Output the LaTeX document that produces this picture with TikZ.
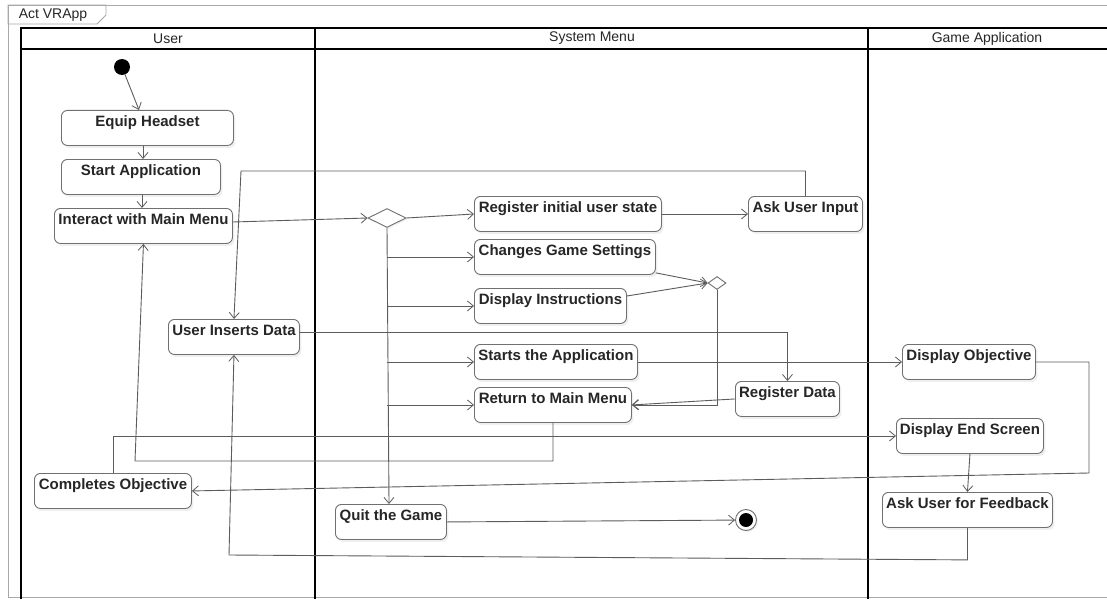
\documentclass[tikz,border=0pt]{standalone}
\usepackage{fontspec}
\setmainfont{Liberation Sans}
\usetikzlibrary{arrows.meta,shapes.geometric,calc,shadows}
\definecolor{boxline}{HTML}{707070}
\definecolor{flowline}{HTML}{5C5C5C}
\definecolor{txt}{HTML}{262626}
\definecolor{frameline}{HTML}{A8A8A8}
\tikzset{
  act/.style={rectangle, rounded corners=6pt, draw=boxline, line width=0.9pt, fill=white,
    drop shadow={shadow xshift=2pt, shadow yshift=-2.5pt, opacity=0.12},
    font=\fontsize{15}{17}\selectfont\bfseries, text=txt,
    inner xsep=0pt, inner ysep=3pt, text height=13.5pt, text depth=15.5pt,
    anchor=north west},
  flow/.style={draw=flowline, line width=0.9pt,
    -{Straight Barb[length=6pt, width=10pt, line width=0.8pt]}},
  link/.style={draw=flowline, line width=0.9pt},
  lane/.style={draw=black, line width=1.6pt},
  lanetitle/.style={font=\fontsize{14}{16}\selectfont, text=txt, inner sep=0pt},
}
\begin{document}
\begin{tikzpicture}[x=1pt, y=-1pt]
\useasboundingbox (0,0) rectangle (1107,599);
\fill[white] (0,0) rectangle (1107,599);

% outer diagram frame and its name tab
\draw[frameline, line width=0.8pt] (1107,5) -- (8,5) -- (8,597) -- (1107,597);
\draw[frameline, line width=0.8pt] (8,5) -- (106,5) -- (106,15) -- (97,24) -- (8,24) -- cycle;
\node[lanetitle] (tab) at (53,15) {Act VRApp};

% swimlanes
\draw[lane] (1107,28) -- (21,28) -- (21,599);
\draw[lane] (21,49) -- (1107,49);
\draw[lane] (315,28) -- (315,599);
\draw[lane] (868,28) -- (868,599);
\node[lanetitle] (lnuser) at (168,38.5) {User};
\node[lanetitle] (lnsys) at (592,38.5) {System Menu};
\node[lanetitle] (lngame) at (987,38.5) {Game Application};

% initial and final nodes
\node[circle, fill=black, minimum size=16pt, inner sep=0pt] (init) at (122,67) {};
\node[circle, draw=boxline, line width=0.9pt, fill=white, minimum size=21pt, inner sep=0pt,
  drop shadow={shadow xshift=1.5pt, shadow yshift=-1.5pt, opacity=0.12}] (final) at (746,520) {};
\node[circle, fill=black, minimum size=14pt, inner sep=0pt] (finaldot) at (746,520) {};

% decision / merge nodes
\node[diamond, draw=boxline, line width=0.9pt, fill=white, minimum width=38pt, minimum height=19pt,
  inner sep=0pt, drop shadow={shadow xshift=1.5pt, shadow yshift=-1.5pt, opacity=0.12}] (dec) at (387,218) {};
\node[diamond, draw=boxline, line width=0.9pt, fill=white, minimum width=18pt, minimum height=13pt,
  inner sep=0pt] (merge) at (717,283) {};

% User lane
\node[act, minimum width=172pt] (eh)  at (61,110) {Equip Headset};
\node[act, minimum width=159pt] (sa)  at (61,159) {Start Application};
\node[act, minimum width=178pt] (im)  at (54,208) {Interact with Main Menu};
\node[act, minimum width=131pt] (uid) at (168,319) {User Inserts Data};
\node[act, minimum width=157pt] (co)  at (34,473) {Completes Objective};

% System Menu lane
\node[act, minimum width=187pt] (ris) at (474,196) {Register initial user state};
\node[act, minimum width=181pt] (cgs) at (474,239) {Changes Game Settings};
\node[act, minimum width=152pt] (di)  at (474,288) {Display Instructions};
\node[act, minimum width=163pt] (sta) at (474,344) {Starts the Application};
\node[act, minimum width=157pt] (rmm) at (474,387) {Return to Main Menu};
\node[act, minimum width=111pt] (qg)  at (335,504) {Quit the Game};
\node[act, minimum width=114pt] (aui) at (748,196) {Ask User Input};
\node[act, minimum width=104pt] (rd)  at (735,381) {Register Data};

% Game Application lane
\node[act, minimum width=133pt] (dob)  at (902,344) {Display Objective};
\node[act, minimum width=147pt] (des)  at (896,418) {Display End Screen};
\node[act, minimum width=170pt] (aufb) at (882,492) {Ask User for Feedback};

% bend points of the routed connectors
\coordinate (askup)  at (241,171);
\coordinate (objend) at (1089,473);
\coordinate (retlow) at (135,461);
\coordinate (fbend)  at (229,555);

% main sequence
\draw[flow] (init) -- ($(eh.north west)+(78,0)$);
\draw[flow] ($(eh.south west)+(82,0)$) -- ($(sa.north west)+(82,0)$);
\draw[flow] ($(sa.south west)+(81,0)$) -- ($(im.north west)+(88,0)$);
\draw[flow] ($(im.north east)+(0,14)$) -- (dec.west);

% decision branches
\draw[flow] (dec.east) -- ($(ris.north west)+(0,18)$);
\draw[flow] (dec.south) -- ($(qg.north west)+(54,0)$);
\draw[flow] (dec.south |- cgs.west) -- (cgs.west);
\draw[flow] (dec.south |- di.west) -- (di.west);
\draw[flow] (dec.south |- sta.west) -- (sta.west);
\draw[flow] (dec.south |- rmm.west) -- (rmm.west);

% registration and input
\draw[flow] (ris.east) -- (aui.west);
\draw[flow] (aui.north) |- (askup) -- (uid.north);
\draw[flow] ($(uid.north east)+(0,13)$) -| (rd.north);
\draw[flow] (rd.west) -- (rmm.east);

% settings / instructions merge back to the menu
\draw[flow] ($(cgs.south east)+(0,-2)$) -- (merge.west);
\draw[flow] ($(di.north east)+(0,8)$) -- (merge.west);
\draw[flow] (merge.south) |- (rmm.east);

% return to the main menu
\draw[flow] (rmm.south) |- (retlow) -- (im.south);

% game flow
\draw[flow] (sta.east) -- (dob.west);
\draw[flow] (dob.east) -| (objend) -- (co.east);
\draw[flow] (co.north) |- (des.west);
\draw[flow] (des.south) -- (aufb.north);
\draw[flow] (aufb.south) -- ++(0,32) -- (fbend) -- (uid.south);

% quitting
\draw[flow] (qg.east) -- (final);
\end{tikzpicture}
\end{document}
